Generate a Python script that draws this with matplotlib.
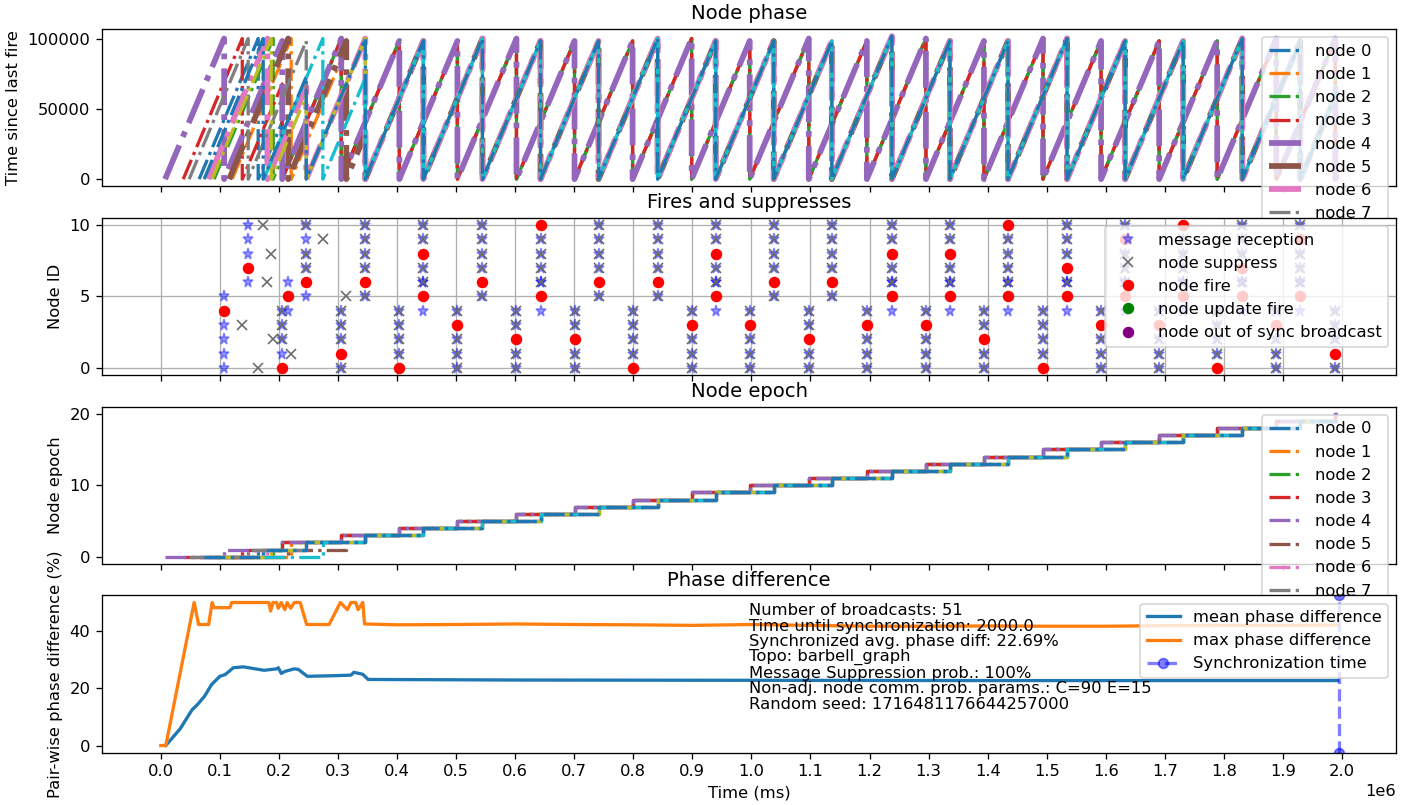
import matplotlib
matplotlib.use("Agg")
import matplotlib.pyplot as plt

N_NODES = 11
LOWER = [0, 1, 2, 3, 4]
UPPER = [5, 6, 7, 8, 9, 10]
T_END = 1_992_000
SYNC_T = 1_995_000

# barbell_graph(5, 1): two 5-cliques joined through node 5
edges = [(a, b) for a in LOWER for b in LOWER if a < b] + \
        [(a, b) for a in UPPER[1:] for b in UPPER[1:] if a < b] + [(4, 5), (5, 6)]

# time each node was switched on (phase 0)
start_t = [64900, 120800, 90300, 38000, 7300, 115800, 80500, 48000, 87000, 174400, 73400]
# epoch a node reaches at its first reset (1 and 9 pick up the epoch of their neighbours)
first_epoch = [1, 2, 1, 1, 1, 1, 1, 1, 1, 2, 1]

# firing rounds of the lower clique (0-4) and upper clique (5-10)
low_t = [107300, 205600, 305600, 403900, 502200, 602200, 700500, 798800, 898800, 997100,
         1097100, 1195400, 1295400, 1393700, 1493700, 1592000, 1690300, 1788600, 1888600, 1988600]
low_fire = [[4], [0], [1], [0], [3], [2], [2], [0], [3], [3],
            [2], [3], [3], [2], [0], [3], [3], [0], [3], [1]]
up_t = [148000, 246300, 346300, 444600, 544600, 642900, 741200, 841200, 939500, 1037800,
        1136100, 1237800, 1336100, 1434400, 1534400, 1632700, 1731000, 1831000, 1929300]
up_fire = [[7], [6], [6], [8, 5], [6], [10, 5], [6], [6], [8, 5], [6],
           [6], [8, 5], [8, 5], [10, 5], [7, 5], [9, 5], [10, 5], [7, 5], [9, 5]]
extra_fire_t = [215800]
extra_fire_node = [5]

# suppressions before the rounds settle (from round 3 on every silent clique member suppresses)
early_sup_t = [138000, 164900, 173400, 180500, 187000, 190300, 205600, 205600, 205600,
               220800, 246300, 246300, 246300, 274400, 314100]
early_sup_node = [3, 0, 10, 6, 8, 2, 4, 3, 2, 1, 10, 8, 7, 9, 5]

# pair-wise phase difference (%)
max_t = [0, 8500, 56500, 64000, 81000, 87000, 90000, 117000, 120000, 183000, 186000, 190000,
         196000, 199000, 204000, 210000, 214000, 220000, 226000, 236000, 247000, 285000,
         304000, 316000, 322000, 330000, 334000, 342000, 345000, 400000, 500000, 600000,
         700000, 800000, 900000, 1000000, 1100000, 1200000, 1300000, 1400000, 1500000,
         1600000, 1700000, 1800000, 1900000, 1992000]
max_v = [0, 0, 50, 42.3, 42.3, 50, 48.2, 48.2, 50, 50, 47, 50,
         50, 48, 50, 47.5, 50, 48, 50, 50, 42.3, 42.3,
         50, 47.5, 50, 50, 47.5, 50, 42.5, 42.2, 42.3, 42.5,
         42.3, 42.2, 42.0, 42.3, 42.0, 41.7, 41.7, 41.8, 41.7,
         41.7, 41.9, 42.0, 42.0, 42.1]
mean_t = [8500, 33000, 53000, 62000, 74000, 86000, 100000, 109000, 123000, 140000, 157000,
          175000, 196000, 199000, 204000, 210000, 226000, 233000, 248000, 292000, 322000,
          327000, 342000, 351000, 600000, 1000000, 1400000, 1800000, 1992000]
mean_v = [0, 5.9, 12.5, 14.3, 17.2, 21.3, 24.2, 24.8, 27.2, 27.5, 26.9,
          26.3, 26.8, 27.2, 25.2, 25.9, 26.8, 26.6, 24.2, 24.4, 24.6,
          25.6, 24.9, 23.1, 22.9, 22.8, 22.7, 22.7, 22.7]

info = ("Number of broadcasts: 51\n"
        "Time until synchronization: 2000.0\n"
        "Synchronized avg. phase diff: 22.69%\n"
        "Topo: barbell_graph\n"
        "Message Suppression prob.: 100%\n"
        "Non-adj. node comm. prob. params.: C=90 E=15\n"
        "Random seed: 1716481176644257000")

phase_lw = [2, 2, 2, 2, 3.5, 3.5, 3.5, 2, 2, 2, 2]

# ---- events ----
fires = []      # (t, node)
sups = []       # (t, node)
for k, (t, fs) in enumerate(zip(low_t, low_fire)):
    fires += [(t, n) for n in fs]
    if k >= 2:
        sups += [(t, n) for n in LOWER if n not in fs]
for k, (t, fs) in enumerate(zip(up_t, up_fire)):
    fires += [(t, n) for n in fs]
    if k >= 2:
        sups += [(t, n) for n in UPPER if n not in fs]
fires += list(zip(extra_fire_t, extra_fire_node))
sups += list(zip(early_sup_t, early_sup_node))

neigh = {i: [] for i in range(N_NODES)}
for a, b in edges:
    neigh[a].append(b)
    neigh[b].append(a)
recv = [(t, m) for t, n in fires for m in neigh[n]]

resets = {i: sorted({t for t, n in fires + sups if n == i}) for i in range(N_NODES)}

fig, axs = plt.subplots(4, 1, sharex=True, figsize=(1416 / 118, 805 / 118), dpi=118)
fig.subplots_adjust(left=0.072, right=0.986, top=0.964, bottom=0.065, hspace=0.2)
ax0, ax1, ax2, ax3 = axs

# node phase
for i in range(N_NODES):
    xs, ys = [start_t[i]], [0]
    prev = start_t[i]
    for r in resets[i]:
        xs += [r, r]
        ys += [r - prev, 0]
        prev = r
    xs.append(T_END)
    ys.append(T_END - prev)
    ax0.plot(xs, ys, '-.', color=f'C{i % 10}', lw=phase_lw[i], label=f'node {i}')
ax0.set_title("Node phase")
ax0.set_ylabel("Time since last fire")
ax0.set_yticks([0, 50000, 100000])
ax0.legend(loc='upper right')

# fires and suppresses
ax1.plot([t for t, n in recv], [n for t, n in recv], '*', color='blue', alpha=0.4, ms=7,
         ls='none', label='message reception')
ax1.plot([t for t, n in sups], [n for t, n in sups], 'x', color='dimgray', ms=6,
         ls='none', label='node suppress')
ax1.plot([t for t, n in fires], [n for t, n in fires], 'o', color='red', ms=6,
         ls='none', label='node fire')
ax1.plot([], [], 'o', color='green', ls='none', label='node update fire')
ax1.plot([], [], 'o', color='purple', ls='none', label='node out of sync broadcast')
ax1.set_title("Fires and suppresses")
ax1.set_ylabel("Node ID")
ax1.set_yticks([0, 5, 10])
ax1.grid(True)
ax1.legend(loc='upper right')

# node epoch
for i in range(N_NODES):
    ex = [start_t[i]] + resets[i] + [T_END]
    ey = [0] + [first_epoch[i] + k for k in range(len(resets[i]))]
    ey.append(ey[-1])
    ax2.step(ex, ey, '-.', where='post', color=f'C{i % 10}', lw=2, label=f'node {i}')
ax2.set_title("Node epoch")
ax2.set_ylabel("Node epoch")
ax2.set_yticks([0, 10, 20])
ax2.legend(loc='upper right')

# phase difference
ax3.plot(mean_t, mean_v, color='C0', lw=2, label='mean phase difference')
ax3.plot(max_t, max_v, color='C1', lw=2, label='max phase difference')
ax3.plot([SYNC_T, SYNC_T], [-2.5, 52.5], '--o', color='blue', alpha=0.5, lw=2,
         label='Synchronization time')
ax3.set_ylim(-2.5, 52.5)
ax3.set_yticks([0, 20, 40])
ax3.text(0.5, 0.95, info, transform=ax3.transAxes, va='top', ha='left', linespacing=1.03)
ax3.set_title("Phase difference")
ax3.set_ylabel("Pair-wise phase difference (%)")
ax3.set_xlabel("Time (ms)")
ax3.legend(loc='upper right')

ax3.set_xticks([k * 100000 for k in range(21)])
ax3.set_xlim(-99600, 2091600)

fig.savefig("out.png")
